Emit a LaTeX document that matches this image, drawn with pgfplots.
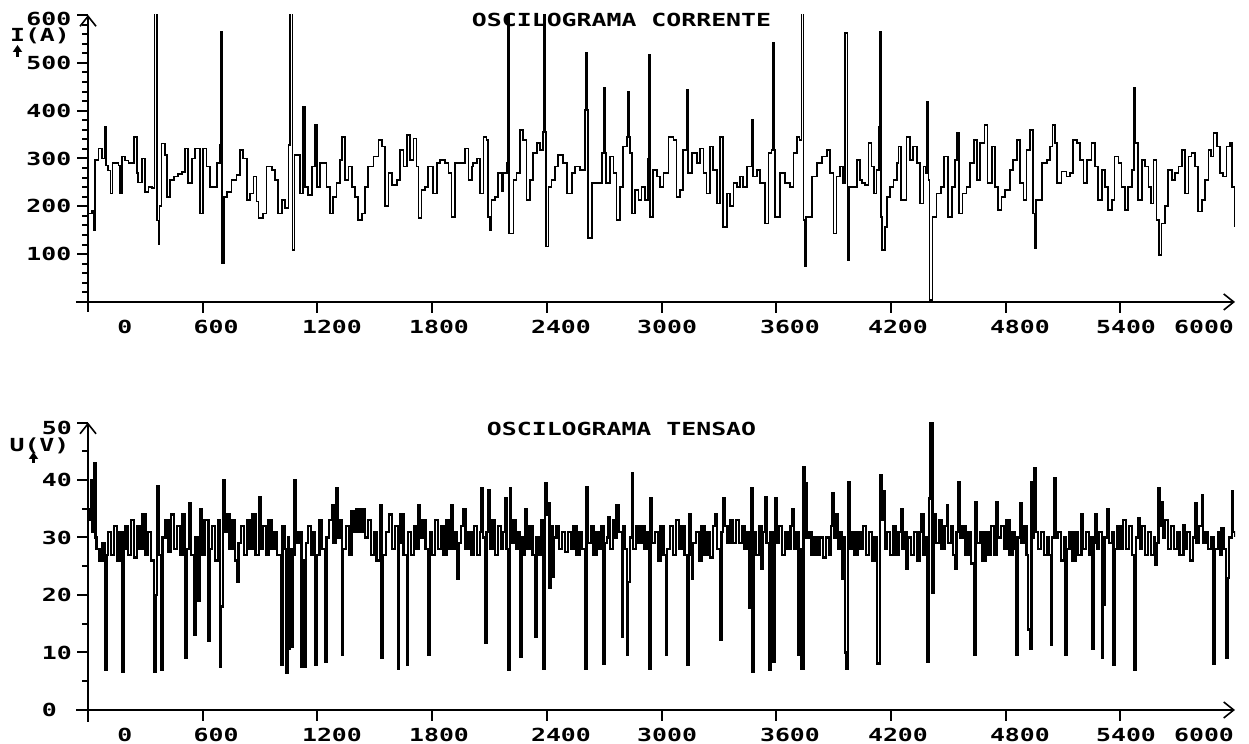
\documentclass[border=0pt]{standalone}
\usepackage{pgfplots}
\pgfplotsset{compat=1.18}
\usepackage{fontspec}
\usetikzlibrary{arrows.meta}
\newfontfamily\pix[FakeStretch=1.38]{DejaVu Sans Mono}
\newcommand\pf{\pix\bfseries\fontsize{9pt}{9pt}\selectfont}
\pgfplotsset{
  osc/.style={
    scale only axis, axis lines=middle,
    every inner x axis line/.append style={line width=1pt,-{Straight Barb[length=5pt,width=8pt,line width=0.8pt]}},
    every inner y axis line/.append style={line width=1pt,-{Straight Barb[length=5pt,width=8pt,line width=0.8pt]}},
    tick align=outside, major tick length=5.5pt, minor tick length=3pt,
    every tick/.style={line width=1pt, black},
    hide obscured x ticks=false, hide obscured y ticks=false,
    xmin=-63, xmax=6000,
    xtick={600,1200,...,5400}, xticklabels={},
    extra x ticks={193,670,1276,1836,2474,3029,3672,4237,4875,5430,5838},
    extra x tick labels={0,600,1200,1800,2400,3000,3600,4200,4800,5400,6000},
    extra x tick style={major tick length=0pt, xticklabel style={anchor=base, inner sep=0pt, yshift=-15.7pt, font=\pf}},
    yticklabel style={anchor=base west, inner sep=0pt, yshift=-3.3pt, font=\pf},
    title style={anchor=center, inner sep=0pt, yshift=-6pt, font=\pf},
  }
}
\begin{document}
\begin{tikzpicture}
\useasboundingbox (0,0) rectangle (624.5pt,372pt);
% ---------------- current ----------------
\begin{axis}[osc,
  at={(38pt,216pt)}, anchor=south west,
  width=579.5pt, height=148.5pt,
  ymin=-21, ymax=600,
  ytick={100,200,...,600}, minor ytick={20,40,...,580},
  yticklabels={100,200,300,400,500,\raisebox{-2pt}{600}},
  yticklabel style={xshift=-25.5pt},
  title={OSCILOGRAMA CORRENTE},
  title style={at={(0.4707,0.983)}},
]
\addplot[const plot, black, line width=0.85pt] coordinates {
(0,185)(20,190)(28,150)(37,297)(54,321)(72,300)(89,367)(94,285)(106,275)(118,227)
(128,290)(159,285)(167,227)(176,304)(194,296)(211,290)(242,345)(255,270)(263,250)(281,300)
(298,230)(316,240)(333,238)(348,650)(362,170)(368,120)(374,200)(385,331)(403,307)(412,220)
(429,255)(450,262)(470,268)(490,272)(508,321)(524,248)(542,300)(559,321)(585,185)(603,321)
(620,283)(638,241)(673,290)(690,328)(695,565)(700,81)(712,220)(726,230)(751,255)(777,265)
(795,318)(812,300)(830,213)(847,227)(865,262)(882,210)(891,175)(917,185)(934,283)(961,276)
(978,255)(995,185)(1013,213)(1030,196)(1048,328)(1056,650)(1070,109)(1080,307)(1108,227)(1125,408)
(1134,241)(1152,224)(1170,283)(1187,370)(1196,241)(1213,290)(1231,290)(1248,241)(1266,185)(1283,220)
(1300,248)(1318,297)(1330,345)(1344,255)(1362,283)(1379,241)(1397,220)(1414,171)(1432,185)(1449,241)
(1466,283)(1493,304)(1519,339)(1536,325)(1554,200)(1571,269)(1589,245)(1615,255)(1632,318)(1650,283)
(1667,349)(1684,297)(1702,342)(1719,283)(1728,175)(1745,234)(1763,241)(1780,283)(1806,227)(1824,290)
(1841,297)(1867,290)(1885,269)(1902,178)(1920,290)(1946,290)(1972,321)(1990,255)(2007,283)(2015,290)
(2033,300)(2050,227)(2068,345)(2085,339)(2094,178)(2103,150)(2111,213)(2129,220)(2146,269)(2164,231)
(2172,269)(2190,290)(2197,650)(2203,143)(2212,143)(2225,255)(2242,269)(2260,360)(2277,339)(2294,213)
(2312,255)(2329,311)(2347,332)(2364,318)(2380,356)(2384,650)(2390,356)(2396,116)(2408,241)(2425,255)
(2443,283)(2460,307)(2486,290)(2504,227)(2530,269)(2547,283)(2574,276)(2598,401)(2605,520)(2611,401)
(2617,133)(2635,248)(2661,248)(2687,311)(2699,447)(2705,311)(2710,248)(2730,304)(2748,269)(2765,171)
(2783,241)(2800,325)(2818,345)(2823,440)(2829,345)(2835,311)(2844,185)(2861,234)(2879,213)(2896,241)
(2914,213)(2929,300)(2933,516)(2940,178)(2957,276)(2975,262)(2992,241)(3010,269)(3036,345)(3062,339)
(3079,220)(3097,234)(3114,318)(3130,330)(3132,443)(3140,269)(3158,311)(3184,290)(3201,321)(3219,269)
(3236,227)(3254,325)(3271,276)(3289,206)(3306,345)(3323,157)(3341,227)(3358,200)(3376,248)(3393,241)
(3411,262)(3428,241)(3446,283)(3470,300)(3472,381)(3480,262)(3498,276)(3515,248)(3541,164)(3559,311)
(3576,318)(3580,541)(3588,318)(3595,178)(3620,269)(3646,248)(3672,241)(3690,311)(3707,345)(3721,339)
(3733,650)(3743,171)(3749,74)(3757,178)(3768,178)(3786,262)(3812,290)(3838,304)(3864,318)(3882,269)
(3899,143)(3916,262)(3934,283)(3951,248)(3960,562)(3968,562)(3973,88)(3980,241)(3995,241)(4021,297)
(4038,255)(4047,248)(4064,245)(4082,332)(4099,283)(4113,227)(4125,276)(4138,367)(4143,565)(4149,178)
(4155,109)(4169,157)(4178,220)(4195,241)(4213,255)(4230,290)(4239,325)(4253,213)(4270,213)(4282,345)
(4300,297)(4317,325)(4335,290)(4352,206)(4370,283)(4382,269)(4390,419)(4396,255)(4402,4)(4417,178)
(4439,227)(4462,241)(4479,304)(4497,178)(4518,241)(4535,297)(4544,353)(4556,185)(4574,227)(4596,241)
(4614,290)(4636,339)(4649,255)(4666,332)(4689,370)(4706,248)(4727,325)(4745,241)(4762,192)(4779,220)
(4797,234)(4823,276)(4840,297)(4858,339)(4875,248)(4893,213)(4910,318)(4928,360)(4945,185)(4952,112)
(4960,213)(4989,290)(5015,297)(5032,325)(5046,370)(5058,332)(5067,248)(5093,273)(5119,262)(5137,269)
(5154,339)(5172,332)(5189,297)(5207,248)(5224,297)(5250,332)(5268,283)(5285,213)(5303,276)(5320,241)
(5337,192)(5355,213)(5369,304)(5390,290)(5407,241)(5425,192)(5442,241)(5460,276)(5472,447)(5478,332)
(5494,213)(5512,297)(5529,283)(5547,241)(5561,206)(5573,297)(5590,171)(5603,98)(5616,164)(5634,200)
(5651,276)(5669,255)(5686,269)(5704,283)(5721,318)(5739,227)(5756,304)(5773,311)(5791,283)(5805,189)
(5826,213)(5843,255)(5861,318)(5875,304)(5887,353)(5904,325)(5922,269)(5939,262)(5956,325)(5974,332)
(5986,241)(5997,157)
};
\end{axis}
% ---------------- voltage ----------------
\begin{axis}[osc,
  at={(38pt,11pt)}, anchor=south west,
  width=579.5pt, height=149.75pt,
  ymin=-2.09, ymax=50,
  ytick={0,10,...,50}, minor ytick={5,15,...,45},
  yticklabels={0,10,20,30,40,\raisebox{-2.5pt}{50}},
  yticklabel style={xshift=-17.75pt},
  title={OSCILOGRAMA TENSAO},
  title style={at={(0.4707,0.98)}},
]
\addplot[const plot, black, line width=1.2pt] coordinates {
(0,33)(8,35)(15,40)(22,31)(30,43)(38,30)(45,28)(60,26)(75,29)(90,7)(97,27)(105,31)(120,27)(135,32)
(150,26)(165,31)(180,6.7)(188,28)(195,32)(210,27)(225,33)(240,26.5)(255,32)(270,28)(285,34)(300,27)
(315,31)(330,26)(345,6.7)(352,20)(360,39)(368,27)(382,7)(390,30)(405,33)(420,27.5)(435,34)(450,28)
(465,32)(480,27)(495,34)(507,9)(515,28)(528,36)(540,27)(555,13)(562,30)(578,19)(586,35)(595,27)
(610,33)(630,12)(638,28)(650,32)(665,26)(680,33)(690,7.5)(697,18)(705,40)(713,31)(725,34)(740,28)
(755,33)(770,26)(780,22.3)(788,29)(800,32)(815,27)(830,33)(845,28)(860,34)(875,27)(894,37)(902,28)
(915,32)(930,27)(945,33)(960,28)(975,31)(990,27)(1009,7.8)(1017,32)(1030,28)(1039,6.4)(1046,30)
(1051,10.7)(1058,28)(1065,11)(1072,27)(1079,40)(1087,29)(1100,31)(1117,7.5)(1124,26)(1131,7.5)
(1139,29)(1150,32)(1165,27)(1180,31)(1187,7.8)(1195,27)(1210,33)(1225,28)(1240,8.4)(1248,30)
(1260,33)(1275,35.7)(1283,29)(1297,38.5)(1305,30)(1315,33)(1327,9.6)(1335,28)(1350,32)(1365,27)
(1379,34.5)(1390,31)(1405,35)(1420,31)(1435,35)(1450,30)(1465,33)(1480,27)(1495,31)(1510,26)
(1528,35.7)(1536,9)(1544,27)(1560,31)(1575,34)(1590,28)(1605,32)(1620,7.2)(1628,29)(1635,34)
(1650,27)(1667,7.8)(1675,31)(1690,27)(1705,32)(1718,28)(1728,35.7)(1735,30)(1750,33)(1765,28)
(1780,9.6)(1788,31)(1800,27)(1815,33)(1830,28)(1845,32)(1860,27)(1875,33)(1890,28)(1902,35.7)
(1910,28)(1920,31)(1929,22.9)(1937,29)(1950,32)(1965,35)(1975,28)(1990,31)(2005,27)(2020,32)
(2035,27)(2050,31)(2059,38.5)(2067,30)(2076,11.6)(2084,31)(2094,38.2)(2102,28)(2115,33)(2130,27)
(2145,32)(2160,28)(2172,31)(2181,36.8)(2189,28)(2196,7)(2206,38.5)(2214,29)(2225,33)(2240,28)
(2250,31)(2260,9.3)(2268,30)(2278,27)(2286,35)(2295,28)(2310,32)(2325,27)(2338,12.8)(2346,30)
(2360,27)(2372,33)(2380,7.2)(2390,39.4)(2398,34)(2405,36)(2413,21.2)(2421,32)(2430,23.2)(2438,30)
(2450,32)(2465,28)(2480,31)(2495,27.5)(2510,31)(2525,28)(2540,32)(2555,27)(2570,31)(2585,28)
(2600,7.2)(2608,38.8)(2616,29)(2630,32)(2645,27)(2660,31)(2675,28)(2685,32)(2696,8.1)(2704,29)
(2715,30)(2722,33.5)(2730,28)(2745,33)(2758,30)(2765,35.7)(2775,31)(2792,12.8)(2800,32)(2810,28)
(2818,9.6)(2826,22.3)(2834,30)(2844,41.2)(2852,28)(2865,32)(2880,29)(2895,32)(2910,28)(2925,31)
(2935,7.2)(2943,36.8)(2951,29)(2965,31)(2980,26)(2995,32)(3010,27)(3022,9.6)(3030,28)(3045,32)
(3060,27)(3075,33)(3090,28)(3105,32)(3120,27)(3132,7.8)(3144,34)(3152,27)(3158,22.9)(3166,29)
(3180,31)(3195,26)(3210,32)(3225,27)(3240,31)(3255,26.5)(3270,32)(3280,34)(3290,28)(3306,12.2)
(3314,31)(3323,36.8)(3331,32)(3345,29)(3360,33)(3375,29)(3390,33)(3405,29)(3420,32)(3435,28)
(3450,31)(3460,17.7)(3468,38.5)(3476,6.7)(3484,31)(3495,27)(3510,32)(3524,24.6)(3532,31)(3541,37)
(3549,29)(3562,7)(3570,31)(3585,8.4)(3594,36.8)(3602,29)(3615,32)(3630,27)(3645,31)(3660,28)
(3675,32)(3686,35)(3694,28)(3705,31)(3716,9.6)(3724,28)(3733,7.2)(3742,42.3)(3751,39.4)(3759,30)
(3770,31)(3785,27)(3800,30)(3815,27)(3830,30)(3845,26.5)(3860,30)(3875,27)(3885,32)(3895,37.7)
(3903,30)(3916,34)(3924,28)(3935,31)(3943,22.9)(3951,30)(3960,10)(3968,7.2)(3977,39.7)(3985,28)
(3995,31)(4010,27)(4025,31)(4040,28)(4055,32)(4070,27)(4085,31)(4100,26)(4115,30)(4128,8.1)
(4135,8.1)(4143,40.9)(4151,33)(4160,38)(4168,28)(4180,31)(4195,27)(4210,32)(4225,27)(4240,31)
(4253,35)(4261,28)(4275,31)(4282,24.6)(4290,30)(4305,27)(4320,31)(4335,26)(4350,31)(4361,34)
(4370,27)(4385,30)(4392,8.4)(4400,36.8)(4404,50)(4412,50)(4418,20.3)(4425,34)(4435,29)(4450,33)
(4465,28)(4480,32)(4492,35.7)(4500,29)(4515,32)(4525,27)(4535,24.6)(4543,31)(4553,39.7)(4561,30)
(4575,32)(4590,27)(4605,31)(4620,25.5)(4636,9.6)(4643,36.2)(4651,29)(4665,31)(4680,26)(4695,31)
(4710,27)(4725,32)(4740,27)(4753,36.2)(4761,30)(4775,32)(4790,28)(4805,33)(4820,27)(4835,31)
(4846,28)(4854,9.6)(4862,30)(4875,36)(4883,29)(4895,32)(4910,27)(4918,14)(4926,10.7)(4936,39.7)
(4942,30)(4949,42)(4957,31)(4970,28)(4985,31)(5000,27)(5015,30)(5025,27)(5036,11.3)(5044,30)
(5055,40.3)(5063,30)(5075,31)(5090,26)(5105,30)(5114,9.6)(5122,28)(5135,31)(5150,26)(5165,31)
(5180,27)(5198,34)(5206,28)(5220,31)(5235,27)(5246,30)(5254,10.7)(5262,29)(5271,34)(5279,28)
(5290,31)(5303,9)(5309,18.3)(5317,30)(5334,35)(5342,29)(5355,31)(5364,7.8)(5372,28)(5385,32)
(5400,28)(5415,33)(5430,28)(5445,32)(5460,27)(5473,7)(5481,30)(5494,33.3)(5502,28)(5515,32)
(5530,27)(5545,31)(5560,27)(5575,30)(5582,25.2)(5590,29)(5599,38.5)(5607,32)(5616,36.2)(5624,30)
(5635,33)(5650,28)(5665,32)(5680,28)(5695,31)(5710,27)(5730,32.2)(5738,28)(5750,31)(5765,26)
(5780,30)(5791,36)(5799,29)(5810,32)(5826,37.4)(5834,29)(5845,31)(5860,28)(5875,30)(5887,8.1)
(5895,28)(5910,31)(5920,27)(5930,31.6)(5940,28)(5953,9)(5962,23)(5970,30)(5983,38)(5991,31)(6000,30)
};
\end{axis}
% axis names
\node[font=\pf, inner sep=0pt] at (20pt,354pt) {I(A)};
\draw[line width=1.4pt, -{Triangle[length=3.5pt,width=4.5pt]}] (8.75pt,343.5pt) -- (8.75pt,349.5pt);
\node[font=\pf, inner sep=0pt] at (19.75pt,149pt) {U(V)};
\draw[line width=1.4pt, -{Triangle[length=3.5pt,width=4.5pt]}] (16.75pt,140.5pt) -- (16.75pt,146pt);
\end{tikzpicture}
\end{document}
